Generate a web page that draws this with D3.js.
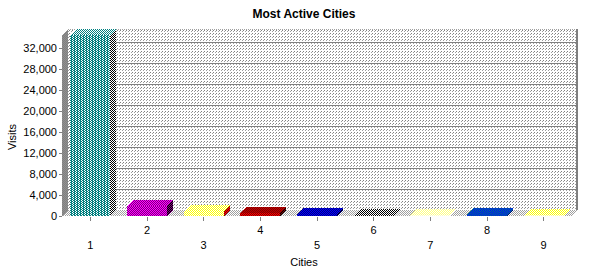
<!DOCTYPE html>
<html>
<head>
<meta charset="utf-8">
<script src="https://cdn.jsdelivr.net/npm/d3@7"></script>
<style>
  body { margin: 0; background: #fff; }
  svg text { font-family: "Liberation Sans", Arial, sans-serif; font-size: 11px; fill: #000; }
</style>
</head>
<body>
<div id="chart"></div>
<script>
// data
const cities = ["1", "2", "3", "4", "5", "6", "7", "8", "9"];
const visits = [34500, 2000, 1000, 500, 300, 250, 150, 300, 150];
const yTicks = [0, 4000, 8000, 12000, 16000, 20000, 24000, 28000, 32000];

// colour pairs for the dithered faces: [front a, front b, top a, top b, side a, side b]
const barColors = [
  ["#008080", "#ffffff", "#008080", "#ffffff", "#000000", "#ffffff"],
  ["#ff00ff", "#800080", "#800080", "#ff00ff", "#800080", "#000000"],
  ["#ffff00", "#ffffff", "#ffff00", "#ffffff", "#ff0000", "#800000"],
  ["#800000", "#ff0000", "#800000", "#c00000", "#800000", "#000000"],
  ["#0000ff", "#000080", "#0000ff", "#000080", "#000080", "#000000"],
  ["#000000", "#ffffff", "#000000", "#ffffff", "#000000", "#ffffff"],
  ["#ffffff", "#ffffc0", "#ffffff", "#ffff80", "#c0c0c0", "#ffffff"],
  ["#0000ff", "#008080", "#0000ff", "#008080", "#000080", "#008080"],
  ["#ffff80", "#ffffff", "#ffff00", "#ffffff", "#c0c0c0", "#ffffff"]
];

const W = 609, H = 274;
const plotLeft = 62, plotRight = 572, plotBottom = 216, plotTop = 35;
const dx = 6, dy = -6;
const barW = 40;

const svg = d3.select("#chart").append("svg")
    .attr("width", W)
    .attr("height", H)
    .attr("shape-rendering", "crispEdges");

const defs = svg.append("defs");

// 2x2 checker dither pattern
function checker(id, a, b) {
    const p = defs.append("pattern")
        .attr("id", id)
        .attr("patternUnits", "userSpaceOnUse")
        .attr("width", 2).attr("height", 2);
    p.append("rect").attr("width", 2).attr("height", 2).attr("fill", a);
    p.append("rect").attr("x", 1).attr("y", 0).attr("width", 1).attr("height", 1).attr("fill", b);
    p.append("rect").attr("x", 0).attr("y", 1).attr("width", 1).attr("height", 1).attr("fill", b);
}

// 3x2 zigzag: mostly colour a with thin b stripes
function zigzag(id, a, b) {
    const p = defs.append("pattern")
        .attr("id", id)
        .attr("patternUnits", "userSpaceOnUse")
        .attr("width", 3).attr("height", 2);
    p.append("rect").attr("width", 3).attr("height", 2).attr("fill", a);
    p.append("rect").attr("x", 0).attr("y", 0).attr("width", 1).attr("height", 1).attr("fill", b);
    p.append("rect").attr("x", 1).attr("y", 1).attr("width", 1).attr("height", 1).attr("fill", b);
}

// sparse dot pattern for the back wall
const wall = defs.append("pattern")
    .attr("id", "wallDots")
    .attr("patternUnits", "userSpaceOnUse")
    .attr("width", 3).attr("height", 3);
wall.append("rect").attr("width", 3).attr("height", 3).attr("fill", "#ffffff");
wall.append("rect").attr("x", 0).attr("y", 0).attr("width", 1).attr("height", 1).attr("fill", "#808080");
wall.append("rect").attr("x", 2).attr("y", 1).attr("width", 1).attr("height", 1).attr("fill", "#a0a0a0");

checker("floorDots", "#a0a0a0", "#ffffff");
checker("leftWall", "#808080", "#909090");

barColors.forEach(function(c, i) {
    if (i === 0) zigzag("front" + i, c[0], c[1]);
    else checker("front" + i, c[0], c[1]);
    checker("top" + i, c[2], c[3]);
    checker("side" + i, c[4], c[5]);
});

// ---------------------------//
//       SCALES               //
// ---------------------------//
const x = d3.scaleBand()
    .domain(cities)
    .range([plotLeft, plotRight]);

const y = d3.scaleLinear()
    .domain([0, 34500])
    .range([plotBottom, plotTop]);

// ---------------------------//
//       3D BOX               //
// ---------------------------//
function pts(arr) { return arr.map(function(p) { return p.join(","); }).join(" "); }

// back wall
svg.append("rect")
    .attr("x", plotLeft + dx).attr("y", plotTop + dy)
    .attr("width", plotRight - plotLeft).attr("height", plotBottom - plotTop)
    .attr("fill", "url(#wallDots)");

// top border of back wall
svg.append("line")
    .attr("x1", plotLeft + dx).attr("x2", plotRight + dx)
    .attr("y1", plotTop + dy).attr("y2", plotTop + dy)
    .attr("stroke", "#a0a0a0")
    .attr("stroke-dasharray", "1,1");

// right edge of back wall
svg.append("polygon")
    .attr("points", pts([[plotRight + dx - 2, plotTop + dy], [plotRight + dx, plotTop + dy], [plotRight + dx, plotBottom + dy], [plotRight, plotBottom], [plotRight - 2, plotBottom], [plotRight + dx - 2, plotBottom + dy]]))
    .attr("fill", "#808080");

// gridlines on back wall
svg.append("g")
    .selectAll("line")
    .data(yTicks.filter(function(d) { return d > 0; }))
    .enter()
    .append("line")
    .attr("x1", plotLeft + dx)
    .attr("x2", plotRight + dx - 2)
    .attr("y1", function(d) { return Math.round(y(d)) + dy; })
    .attr("y2", function(d) { return Math.round(y(d)) + dy; })
    .attr("stroke", "#808080");

// left wall
svg.append("polygon")
    .attr("points", pts([[plotLeft, plotTop], [plotLeft + dx, plotTop + dy], [plotLeft + dx, plotBottom + dy], [plotLeft, plotBottom]]))
    .attr("fill", "url(#leftWall)");

// floor
svg.append("polygon")
    .attr("points", pts([[plotLeft, plotBottom], [plotLeft + dx, plotBottom + dy], [plotRight + dx, plotBottom + dy], [plotRight, plotBottom]]))
    .attr("fill", "url(#floorDots)");

// ---------------------------//
//       BARS                 //
// ---------------------------//
const bars = svg.append("g")
    .selectAll("g")
    .data(visits)
    .enter()
    .append("g");

function bx(i) { return Math.round(x(cities[i]) + (x.bandwidth() - barW) / 2); }

// side face
bars.append("polygon")
    .attr("points", function(d, i) {
        const x1 = bx(i) + barW, yt = Math.round(y(d));
        return pts([[x1, yt], [x1 + dx, yt + dy], [x1 + dx, plotBottom + dy], [x1, plotBottom]]);
    })
    .attr("fill", function(d, i) { return "url(#side" + i + ")"; });

// top face
bars.append("polygon")
    .attr("points", function(d, i) {
        const x0 = bx(i), yt = Math.round(y(d));
        return pts([[x0, yt], [x0 + dx, yt + dy], [x0 + barW + dx, yt + dy], [x0 + barW, yt]]);
    })
    .attr("fill", function(d, i) { return "url(#top" + i + ")"; });

// front face
bars.append("rect")
    .attr("x", function(d, i) { return bx(i); })
    .attr("y", function(d) { return Math.round(y(d)); })
    .attr("width", barW)
    .attr("height", function(d) { return plotBottom - Math.round(y(d)); })
    .attr("fill", function(d, i) { return "url(#front" + i + ")"; });

// ---------------------------//
//       AXES                 //
// ---------------------------//
const yAxis = svg.append("g")
    .attr("transform", "translate(" + plotLeft + ",0)")
    .call(d3.axisLeft(y).tickValues(yTicks).tickSize(3).tickPadding(2).tickFormat(d3.format(",")));
yAxis.select(".domain").remove();
yAxis.selectAll(".tick line").attr("stroke", "#808080");
yAxis.selectAll("text").style("font-size", "11px");

const xAxis = svg.append("g")
    .attr("transform", "translate(0," + plotBottom + ")")
    .call(d3.axisBottom(x).tickSize(5));
xAxis.select(".domain").remove();
xAxis.selectAll(".tick line").attr("stroke", "#808080").attr("y1", 1);
xAxis.selectAll(".tick text")
    .attr("dy", null)
    .attr("y", function(d, i) { return i % 2 === 0 ? 33 : 18; })
    .style("font-size", "11px");

// ---------------------------//
//       LABELS               //
// ---------------------------//
svg.append("text")
    .attr("x", 304)
    .attr("y", 18)
    .attr("text-anchor", "middle")
    .style("font-weight", "bold")
    .style("font-size", "12px")
    .text("Most Active Cities");

svg.append("text")
    .attr("x", 304)
    .attr("y", 266)
    .attr("text-anchor", "middle")
    .text("Cities");

svg.append("text")
    .attr("transform", "translate(16,137) rotate(-90)")
    .attr("text-anchor", "middle")
    .text("Visits");
</script>
</body>
</html>
